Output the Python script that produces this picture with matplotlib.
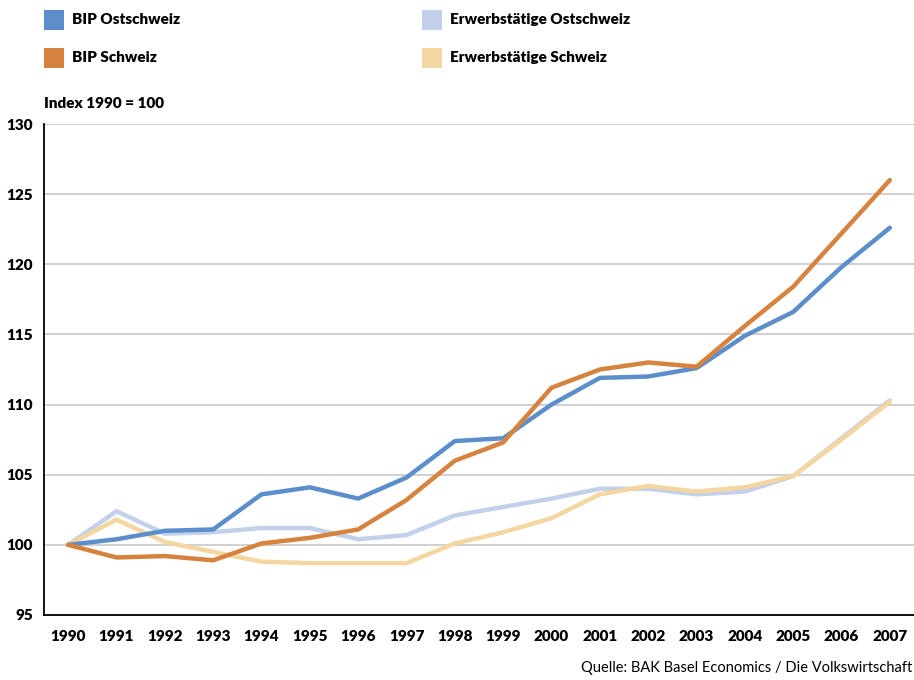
import matplotlib

matplotlib.use("Agg")
import matplotlib.pyplot as plt
from matplotlib.patches import Rectangle

plt.rcParams["font.family"] = ["Lato", "DejaVu Sans"]

years = list(range(1990, 2008))
bip_ost = [100.0, 100.4, 101.0, 101.1, 103.6, 104.1, 103.3, 104.8, 107.4, 107.6,
           110.0, 111.9, 112.0, 112.6, 114.9, 116.6, 119.8, 122.6]
bip_ch = [100.0, 99.1, 99.2, 98.9, 100.1, 100.5, 101.1, 103.2, 106.0, 107.3,
          111.2, 112.5, 113.0, 112.7, 115.6, 118.4, 122.2, 126.0]
erw_ost = [100.0, 102.4, 100.8, 100.9, 101.2, 101.2, 100.4, 100.7, 102.1, 102.7,
           103.3, 104.0, 104.0, 103.6, 103.8, 104.9, 107.6, 110.3]
erw_ch = [100.0, 101.8, 100.2, 99.5, 98.8, 98.7, 98.7, 98.7, 100.1, 100.9,
          101.9, 103.6, 104.2, 103.8, 104.1, 104.9, 107.5, 110.2]

labels = ["BIP Ostschweiz", "BIP Schweiz", "Erwerbstätige Ostschweiz", "Erwerbstätige Schweiz"]
colors = ["#5b8ecb", "#d6833f", "#c3d0ea", "#f3d6a0"]
yticks = [95, 100, 105, 110, 115, 120, 125, 130]

fig = plt.figure(figsize=(9.14, 6.8), dpi=100)
ax = fig.add_axes([44 / 914, 1 - 615 / 680, 870 / 914, 491 / 680])

# light series first so the GDP lines sit on top
order = [2, 3, 0, 1]
series = [bip_ost, bip_ch, erw_ost, erw_ch]
for i in order:
    ax.plot(years, series[i], color=colors[i], lw=3.2, solid_joinstyle="round",
            solid_capstyle="round", zorder=3)

ax.set_xlim(1989.5, 2007.5)
ax.set_ylim(95, 130)
ax.set_yticks(yticks)
ax.set_xticks(years)
ax.grid(True, axis="y", color="#c8c8c8", lw=1.2)
ax.set_axisbelow(True)
for s in ("top", "right"):
    ax.spines[s].set_visible(False)
for s in ("left", "bottom"):
    ax.spines[s].set_color("black")
    ax.spines[s].set_linewidth(1.3)
ax.tick_params(length=0, labelsize=11)
ax.tick_params(axis="y", pad=8)
ax.tick_params(axis="x", pad=11)
for t in ax.get_xticklabels() + ax.get_yticklabels():
    t.set_fontweight("heavy")

# legend, placed like the original: two columns of coloured squares
pos = [(44, 20), (44, 58), (422, 20), (422, 58)]
for (x, y), lab, c in zip(pos, labels, colors):
    fig.add_artist(Rectangle((x / 914, 1 - (y + 10) / 680), 20 / 914, 20 / 680,
                             transform=fig.transFigure, color=c, lw=0))
    fig.text((x + 28) / 914, 1 - y / 680, lab, fontsize=11, fontweight="heavy",
             va="center", ha="left")

fig.text(44 / 914, 1 - 103 / 680, "Index 1990 = 100", fontsize=11, fontweight="heavy",
         va="center", ha="left")
fig.text(912 / 914, 1 - 668 / 680, "Quelle: BAK Basel Economics / Die Volkswirtschaft",
         fontsize=10.5, va="center", ha="right")

fig.savefig("out.png", facecolor="white")
